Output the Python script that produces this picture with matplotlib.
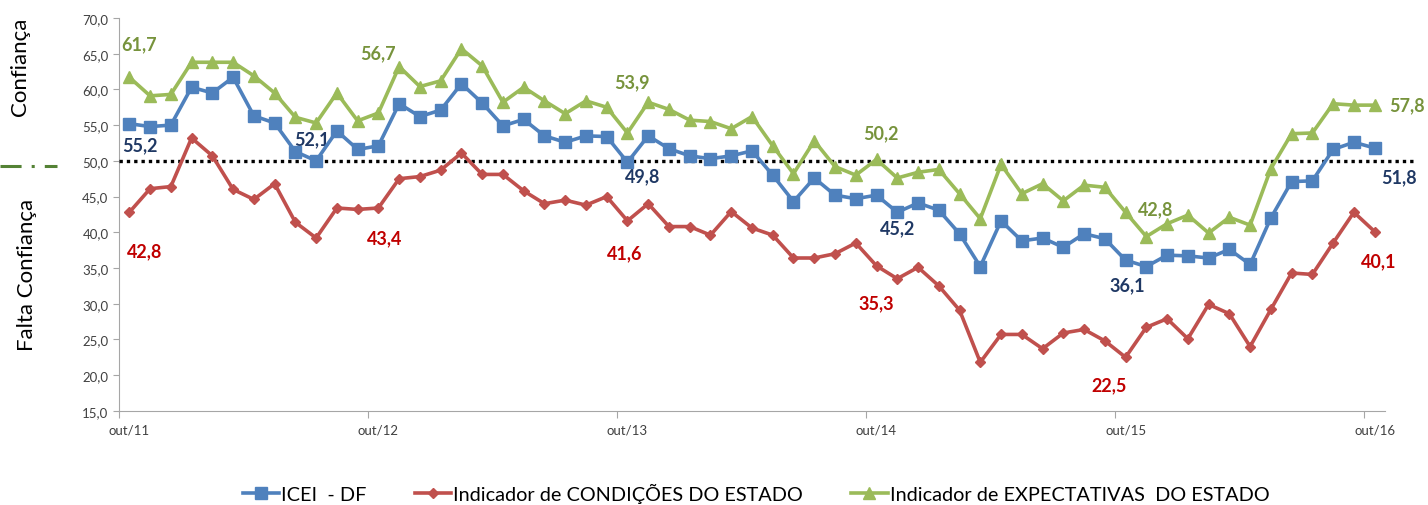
import matplotlib.pyplot as plt
from matplotlib.lines import Line2D
from matplotlib.ticker import FuncFormatter

plt.rcParams['font.family'] = ['Lato', 'DejaVu Sans']

# monthly series out/11 .. out/16
icei = [55.2, 54.8, 55.0, 60.3, 59.5, 61.7, 56.3, 55.3, 51.3, 50.0, 54.2, 51.6,
        52.1, 58.0, 56.2, 57.1, 60.8, 58.1, 54.9, 55.8, 53.5, 52.6, 53.5, 53.4,
        49.8, 53.5, 51.7, 50.7, 50.3, 50.7, 51.4, 48.0, 44.3, 47.6, 45.2, 44.7,
        45.2, 42.8, 44.1, 43.1, 39.8, 35.2, 41.6, 38.8, 39.2, 37.9, 39.8, 39.1,
        36.1, 35.2, 36.8, 36.7, 36.4, 37.6, 35.5, 42.0, 47.1, 47.2, 51.6, 52.6,
        51.8]
condicoes = [42.8, 46.1, 46.4, 53.2, 50.7, 46.0, 44.6, 46.8, 41.4, 39.2, 43.4, 43.2,
             43.4, 47.5, 47.8, 48.7, 51.1, 48.1, 48.1, 45.8, 44.0, 44.5, 43.8, 45.0,
             41.6, 44.0, 40.8, 40.8, 39.6, 42.9, 40.6, 39.6, 36.4, 36.4, 37.0, 38.5,
             35.3, 33.5, 35.1, 32.5, 29.1, 21.8, 25.7, 25.7, 23.7, 25.9, 26.4, 24.8,
             22.5, 26.7, 27.9, 25.1, 29.9, 28.6, 24.0, 29.2, 34.3, 34.1, 38.5, 42.8,
             40.1]
expectativas = [61.7, 59.1, 59.3, 63.8, 63.8, 63.8, 61.9, 59.5, 56.1, 55.3, 59.5, 55.6,
                56.7, 63.2, 60.4, 61.2, 65.7, 63.3, 58.2, 60.3, 58.4, 56.6, 58.4, 57.5,
                53.9, 58.2, 57.2, 55.7, 55.5, 54.5, 56.2, 52.1, 48.2, 52.8, 49.2, 48.0,
                50.2, 47.6, 48.4, 48.8, 45.4, 41.9, 49.5, 45.4, 46.8, 44.4, 46.6, 46.3,
                42.8, 39.4, 41.2, 42.4, 39.9, 42.1, 41.0, 48.9, 53.8, 53.9, 58.0, 57.8,
                57.8]
year_labels = ['out/11', 'out/12', 'out/13', 'out/14', 'out/15', 'out/16']
label_idx = [0, 12, 24, 36, 48, 60]

# label offsets in pixels (dx, dy) for each annotated point
off_icei = [(11, -21), (-66, 7), (15, -13), (21, -33), (2, -25), (24, -29)]
off_cond = [(15, -38), (6, -30), (-3, -32), (0, -37), (-17, -27), (4, -29)]
off_exp = [(10, 34), (0, 60), (4, 51), (4, 27), (30, 4), (32, 0)]

fig = plt.figure(figsize=(14.28, 5.06), dpi=100)
ax = fig.add_axes([0.0833, 0.186, 0.8866, 0.7765])

x = list(range(len(icei)))
ax.plot(x, icei, color='#4F81BD', lw=2.6, marker='s', ms=8, label='ICEI  - DF', zorder=4)
ax.plot(x, condicoes, color='#C0504D', lw=2.6, marker='D', ms=5.5,
        label='Indicador de CONDIÇÕES DO ESTADO', zorder=4)
ax.plot(x, expectativas, color='#9BBB59', lw=2.6, marker='^', ms=8.5,
        label='Indicador de EXPECTATIVAS  DO ESTADO', zorder=4)

ax.plot([0, 1.024], [50, 50], transform=ax.get_yaxis_transform(), color='black',
        lw=2.4, ls=(0, (1, 1.2)), clip_on=False, zorder=3)

def fmt(v):
    return f'{v:.1f}'.replace('.', ',')

for vals, offs, col in [(expectativas, off_exp, '#77933C'),
                        (icei, off_icei, '#1F3864'),
                        (condicoes, off_cond, '#C00000')]:
    for i, (dx, dy) in zip(label_idx, offs):
        ax.annotate(fmt(vals[i]), xy=(i, vals[i]), xytext=(dx, dy),
                    textcoords='offset pixels', ha='center', va='center',
                    fontsize=13, fontweight='bold', color=col, annotation_clip=False)

ax.set_xlim(-0.5, len(icei) - 0.5)
ax.set_ylim(15, 70)
ax.set_yticks(range(15, 71, 5))
ax.yaxis.set_major_formatter(FuncFormatter(lambda v, p: fmt(v)))
ax.set_xticks([i - 0.5 for i in label_idx])
ax.set_xticklabels([])
ax.set_xticks(label_idx, minor=True)
ax.set_xticklabels(year_labels, minor=True)
ax.tick_params(axis='x', which='minor', length=0, pad=9, labelsize=9.5, labelcolor='#404040')
ax.tick_params(axis='x', which='major', length=5, color='#A6A6A6')
ax.tick_params(axis='y', length=4, color='#A6A6A6', labelsize=9.5, labelcolor='#404040')
for s in ['top', 'right']:
    ax.spines[s].set_visible(False)
for s in ['left', 'bottom']:
    ax.spines[s].set_color('#A6A6A6')

fig.text(0.014, 0.868, 'Confiança', rotation=90, ha='center', va='center', fontsize=16)
fig.text(0.019, 0.457, 'Falta Confiança', rotation=90, ha='center', va='center', fontsize=16)
fig.add_artist(Line2D([0, 0.04], [0.669, 0.669], transform=fig.transFigure,
                      color='#548235', lw=2.2, ls=(0, (6.9, 3.3, 1, 3.3))))

fig.legend(loc='center', bbox_to_anchor=(0.5294, 0.024), ncol=3, frameon=False,
           fontsize=14.3, columnspacing=2.4, handlelength=1.86, handletextpad=0.1)

fig.savefig('out.png', dpi=100)
